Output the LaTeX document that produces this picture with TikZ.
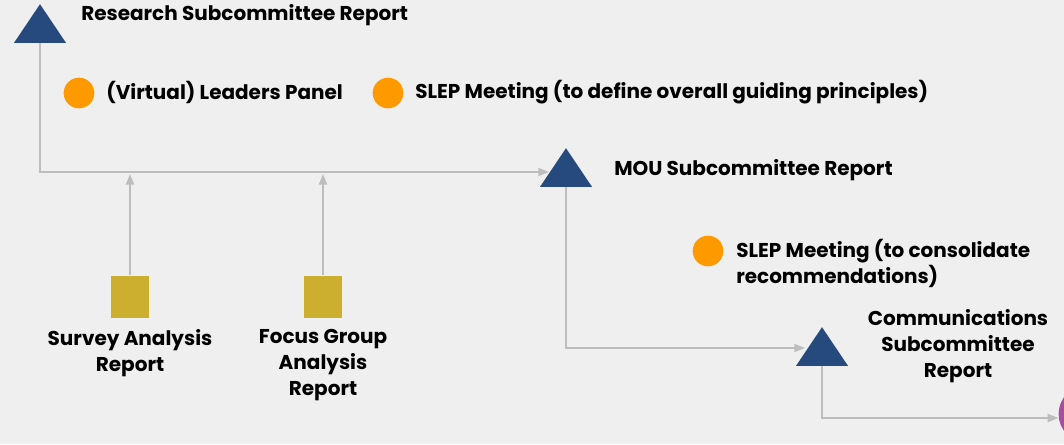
\documentclass[tikz,border=0pt]{standalone}
\usepackage{fontspec}
\setmainfont{Poppins}
\usepackage{xcolor}
\usetikzlibrary{arrows.meta,positioning,shapes.geometric}
\definecolor{reportblue}{HTML}{264A7E}
\definecolor{meetorange}{HTML}{FF9900}
\definecolor{analysisgold}{HTML}{CCAF2E}
\definecolor{flowgray}{HTML}{BDBDBD}
\definecolor{pagebg}{HTML}{EFEFEF}
\definecolor{endpurple}{HTML}{A64D9E}

\begin{document}
\begin{tikzpicture}[
    x=0.75pt, y=-0.75pt,
    report/.style={isosceles triangle, isosceles triangle stretches,
                   shape border rotate=90, fill=reportblue, draw=none,
                   minimum width=39pt, minimum height=29pt, inner sep=0pt},
    meeting/.style={circle, fill=meetorange, minimum size=23pt, inner sep=0pt},
    analysis/.style={rectangle, fill=analysisgold, minimum width=28pt,
                     minimum height=32pt, inner sep=0pt},
    label/.style={font=\fontsize{15}{19.5}\selectfont\bfseries, inner sep=0pt},
    flow/.style={draw=flowgray, line width=1.5pt,
                 -{Triangle[length=8pt,width=6pt]}},
]
% Page
\fill[pagebg] (0,0) rectangle (1064,444);
\useasboundingbox (0,0) rectangle (1064,444);
\clip (0,0) rectangle (1064,444);

% Reports
\node[report] (research) at (40,29) {};
\node[report] (mou) at (566,173) {};
\node[report] (comms) at (822,352) {};
\node[circle, fill=endpurple, minimum size=44pt, inner sep=0pt] (final) at (1088,414) {};

% Meetings
\node[meeting] (leaders) at (79,93) {};
\node[meeting] (slepone) at (388,93) {};
\node[meeting] (sleptwo) at (708,251) {};

% Analyses
\node[analysis] (survey) at (130,297) {};
\node[analysis] (focus) at (323,297) {};

% Texts
\node[label, anchor=west] (researchtxt) at (81,15) {Research Subcommittee Report};
\node[label, anchor=west] (leaderstxt) at (106,92) {(Virtual) Leaders Panel};
\node[label, anchor=west] (slepttxt) at (415,92) {SLEP Meeting (to define overall guiding principles)};
\node[label, anchor=west] (moutxt) at (614,170) {MOU Subcommittee Report};
\node[label, anchor=north west, align=left] (sleptwotxt) at (736,239)
    {SLEP Meeting (to consolidate\\recommendations)};
\node[label, align=center] (commstxt) at (958,346)
    {Communications\\Subcommittee\\Report};
\node[label, align=center, below=8pt of survey] (surveytxt) {Survey Analysis\\Report};
\node[label, align=center, below=8pt of focus] (focustxt) {Focus Group\\Analysis\\Report};

% Flow
\coordinate (bendone) at (research.south |- 0,172);
\coordinate (bendtwo) at (mou.south |- 0,348);
\coordinate (bendthree) at (comms.south |- 0,418);
\draw[flow] (research.south) -- (bendone) -- (mou.west |- bendone);
\draw[flow] (mou.south) -- (bendtwo) -- (comms.west |- bendtwo);
\draw[flow] (comms.south) -- (bendthree) -- (final.west |- bendthree);
\foreach \a in {survey, focus}
    \draw[flow] (\a.north) -- ([yshift=-1.5pt]\a.north |- bendone);
\end{tikzpicture}
\end{document}
